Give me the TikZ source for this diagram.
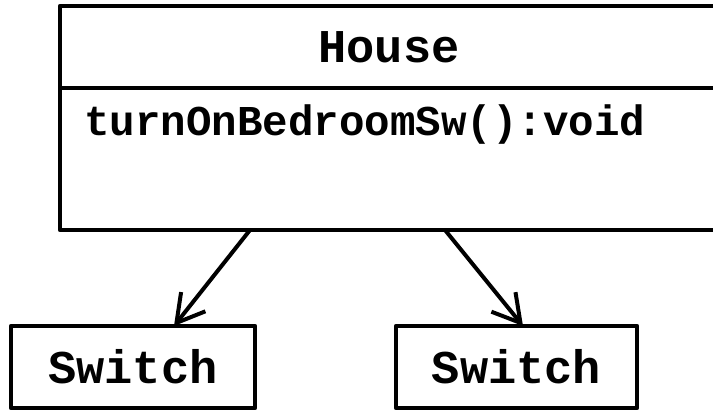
\documentclass[tikz,border=0pt]{standalone}
\usepackage{fontspec}
\setmonofont{Liberation Mono}
\usetikzlibrary{arrows.meta}
\begin{document}
\begin{tikzpicture}[x=1pt, y=-1pt, line join=round, line cap=round,
	box/.style={draw, line width=4.5pt, inner sep=0pt, outer sep=0pt, font=\ttfamily\bfseries\fontsize{47}{52}\selectfont},
	assoc/.style={line width=4pt, -{Straight Barb[length=27pt, width=31pt, line width=4pt]}}]
			\useasboundingbox (0,0) rectangle (713,410);
			\clip (0,0) rectangle (713,410);
			% class House
			\node[box, minimum width=658pt, minimum height=82pt] (title) at (389,47) {House};
			\node[box, minimum width=658pt, minimum height=142pt, anchor=north] (ops) at (title.south) {};
			\node[anchor=base west, inner sep=0pt, font=\ttfamily\bfseries\fontsize{42.5}{48}\selectfont] (op) at (84,135) {turnOnBedroomSw():void};
			% two switches
			\node[box, minimum width=244pt, minimum height=82pt] (sw1) at (133,367) {Switch};
			\node[box, minimum width=241pt, minimum height=82pt] (sw2) at (516.5,367) {Switch};
			\coordinate (a1) at (250,230);
			\coordinate (b1) at (174,326);
			\coordinate (a2) at (445,230);
			\coordinate (b2) at (523,326);
			\draw[assoc] (a1) -- (b1);
			\draw[assoc] (a2) -- (b2);
		\end{tikzpicture}
\end{document}
